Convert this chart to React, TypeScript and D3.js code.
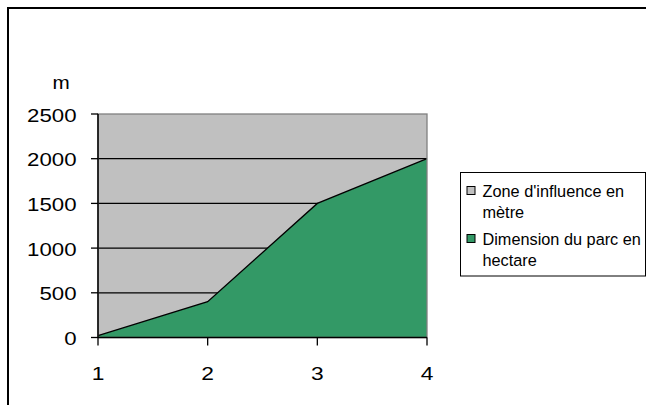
import React from "react";
import * as d3 from "d3";

const categories = [1, 2, 3, 4];
const zoneInfluence = [2500, 2500, 2500, 2500];
const parcDimension = [20, 400, 1500, 2000];
const yTicks = [0, 500, 1000, 1500, 2000, 2500];
const legendItems = [
  { lines: ["Zone d'influence en", "mètre"], color: "#C0C0C0" },
  { lines: ["Dimension du parc en", "hectare"], color: "#339966" },
];

const W = 646;
const H = 405;
const plot = { left: 98, right: 427, top: 114, bottom: 337.5 };

// Text drawn with a horizontal stretch, like the wide chart font
function Label(props: {
  x: number;
  y: number;
  size: number;
  sx: number;
  anchor?: "start" | "middle" | "end";
  children: React.ReactNode;
}) {
  return (
    <text
      transform={`translate(${props.x},${props.y}) scale(${props.sx},1)`}
      textAnchor={props.anchor || "start"}
      fontSize={props.size}
      fill="#000"
    >
      {props.children}
    </text>
  );
}

export default function App() {
  const x = d3.scaleLinear().domain([1, 4]).range([plot.left, plot.right]);
  const y = d3.scaleLinear().domain([0, 2500]).range([plot.bottom, plot.top]);

  const area = d3
    .area<number>()
    .x((_, i) => x(categories[i]))
    .y0(y(0))
    .y1((d) => y(d));
  const line = d3
    .line<number>()
    .x((_, i) => x(categories[i]))
    .y((d) => y(d));

  const font = "Arial, 'Liberation Sans', sans-serif";

  return (
    <svg
      width={W}
      height={H}
      style={{ position: "absolute", left: 0, top: 0, background: "#fff" }}
      fontFamily={font}
    >
      <rect x={8} y={8} width={700} height={500} fill="#fff" stroke="#000" strokeWidth={2} />

      {/* plot area */}
      <path d={area(zoneInfluence) || ""} fill="#C0C0C0" />
      {yTicks
        .filter((t) => t > 0 && t < 2500)
        .map((t) => (
          <line key={t} x1={plot.left} x2={plot.right} y1={y(t)} y2={y(t)} stroke="#000" strokeWidth={1.3} />
        ))}
      <path d={area(parcDimension) || ""} fill="#339966" />
      <path d={line(parcDimension) || ""} fill="none" stroke="#000" strokeWidth={1.3} />
      <rect
        x={plot.left}
        y={plot.top}
        width={plot.right - plot.left}
        height={plot.bottom - plot.top}
        fill="none"
        stroke="#808080"
        strokeWidth={1.3}
      />

      {/* y axis */}
      <line x1={plot.left} x2={plot.left} y1={plot.top} y2={plot.bottom} stroke="#000" strokeWidth={1.5} />
      {yTicks.map((t) => (
        <g key={t}>
          <line x1={plot.left - 7} x2={plot.left} y1={y(t)} y2={y(t)} stroke="#000" strokeWidth={1.3} />
          <Label x={76.5} y={y(t) + 7.5} size={17.5} sx={1.27} anchor="end">
            {t}
          </Label>
        </g>
      ))}
      <Label x={61} y={88.5} size={18} sx={1.15} anchor="middle">
        m
      </Label>

      {/* x axis */}
      <line x1={plot.left} x2={plot.right} y1={plot.bottom} y2={plot.bottom} stroke="#000" strokeWidth={1.5} />
      {categories.map((c) => (
        <g key={c}>
          <line x1={x(c)} x2={x(c)} y1={plot.bottom} y2={plot.bottom + 8} stroke="#000" strokeWidth={1.3} />
          <Label x={x(c)} y={380} size={19} sx={1.2} anchor="middle">
            {c}
          </Label>
        </g>
      ))}

      {/* legend */}
      <rect x={460.5} y={172.5} width={185} height={103.5} fill="#fff" stroke="#000" strokeWidth={1} />
      {legendItems.map((item, i) => {
        const base = 197 + i * 48;
        return (
          <g key={i}>
            <rect x={467} y={base - 10.5} width={8} height={8} fill={item.color} stroke="#000" strokeWidth={1} />
            {item.lines.map((l, j) => (
              <Label key={j} x={482.5} y={base + j * 20.5} size={16.3} sx={1}>
                {l}
              </Label>
            ))}
          </g>
        );
      })}
    </svg>
  );
}
